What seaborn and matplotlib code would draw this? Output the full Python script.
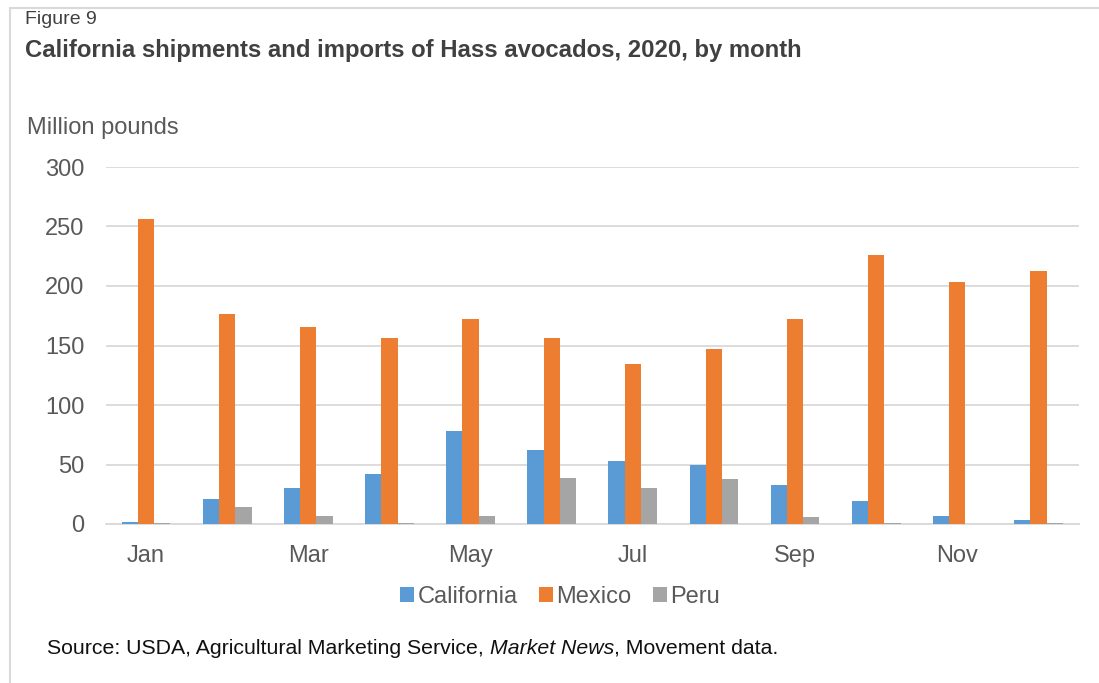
import matplotlib
matplotlib.use("Agg")
import matplotlib.pyplot as plt
import seaborn as sns
import pandas as pd
from matplotlib.patches import Rectangle

months = ["Jan", "Feb", "Mar", "Apr", "May", "Jun",
          "Jul", "Aug", "Sep", "Oct", "Nov", "Dec"]
tick_labels = ["Jan", "", "Mar", "", "May", "", "Jul", "", "Sep", "", "Nov", ""]
california = [1.5, 21, 30, 42, 78, 62, 53, 50, 32.5, 19.5, 7, 3]
mexico = [256, 176.5, 165.5, 156, 172, 156, 134.5, 147, 172, 226, 203, 212.5]
peru = [1.2, 14, 7, 1.2, 7, 39, 30, 38, 6, 1.2, 0, 1.2]
series = ["California", "Mexico", "Peru"]
colors = ["#5B9BD5", "#ED7D31", "#A5A5A5"]

df = pd.DataFrame({
    "month": months * 3,
    "series": [s for s in series for _ in months],
    "value": california + mexico + peru,
})

sns.set_theme(style="white")
plt.rcParams["font.family"] = ["Liberation Sans", "DejaVu Sans"]
text_color = "#595959"

fig = plt.figure(figsize=(10.99, 6.83), dpi=100)
W, H = 1099, 683
ax = fig.add_axes([105.5 / W, 1 - 524 / H, (1079 - 105.5) / W, (524 - 167) / H])

sns.barplot(data=df, x="month", y="value", hue="series", order=months,
            hue_order=series, palette=colors, width=0.6, saturation=1,
            linewidth=0, ax=ax)
for p in ax.patches:
    p.set_zorder(3)

ax.set_ylim(0, 300)
ax.set_yticks(range(0, 301, 50))
ax.yaxis.grid(True, color="#D9D9D9", linewidth=1.3)
ax.set_axisbelow(True)
for s in ["top", "right", "left"]:
    ax.spines[s].set_visible(False)
ax.spines["bottom"].set_color("#D9D9D9")
ax.spines["bottom"].set_linewidth(1.3)
ax.spines["bottom"].set_zorder(1)
ax.set_xticks(range(len(months)))
ax.set_xticklabels(tick_labels)
ax.tick_params(axis="both", length=0, labelsize=17, colors=text_color)
ax.tick_params(axis="x", pad=15)
ax.tick_params(axis="y", pad=15)
ax.set_xlabel("")
ax.set_ylabel("")

leg = ax.legend(loc="center", bbox_to_anchor=(560 / W, 1 - 597 / H),
                bbox_transform=fig.transFigure, ncol=3, frameon=False,
                fontsize=17, handlelength=0.6, handleheight=0.6,
                handletextpad=0.15, columnspacing=0.9)
for t in leg.get_texts():
    t.set_color(text_color)

# outer frame
fig.patches.append(Rectangle((10 / W, -0.05), 1.2, 1 - 8 / H + 0.05,
                             transform=fig.transFigure, fill=False,
                             edgecolor="#D9D9D9", linewidth=1.5))

fig.text(25 / W, 1 - 19 / H, "Figure 9", fontsize=14, color="#404040", va="center")
fig.text(25 / W, 1 - 51 / H, "California shipments and imports of Hass avocados, 2020, by month",
         fontsize=17.2, fontweight="bold", color="#404040", va="center")
fig.text(27 / W, 1 - 128 / H, "Million pounds", fontsize=17, color=text_color, va="center")

y_src = 1 - 648 / H
src = fig.text(47 / W, y_src, "Source: USDA, Agricultural Marketing Service, ",
               fontsize=15.3, color="#111111", va="center")
fig.canvas.draw()
bb = src.get_window_extent()
t2 = fig.text(bb.x1 / W, y_src, "Market News", fontsize=15.3, style="italic",
              color="#111111", va="center")
fig.canvas.draw()
bb2 = t2.get_window_extent()
fig.text(bb2.x1 / W, y_src, ", Movement data.", fontsize=15.3,
         color="#111111", va="center")

fig.savefig("out.png", dpi=100)
